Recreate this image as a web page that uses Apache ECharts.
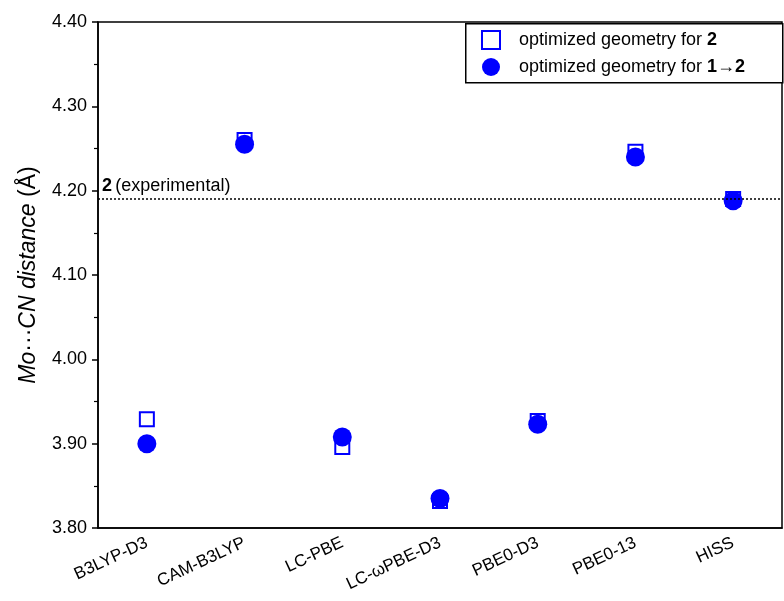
<!DOCTYPE html>
<html>
<head>
<meta charset="utf-8">
<script src="https://cdn.jsdelivr.net/npm/echarts@6/dist/echarts.min.js"></script>
<style>
  html, body { margin: 0; padding: 0; background: #fff; }
  #chart { width: 784px; height: 601px; }
</style>
</head>
<body>
<div id="chart"></div>
<script>
// Functionals on the x axis
const functionals = ['B3LYP-D3', 'CAM-B3LYP', 'LC-PBE', 'LC-\u03c9PBE-D3', 'PBE0-D3', 'PBE0-13', 'HISS'];
// Mo···CN distance (Å), geometry optimized for 2
const distOpt2 = [3.929, 4.260, 3.896, 3.832, 3.927, 4.246, 4.190];
// Mo···CN distance (Å), geometry optimized for 1→2
const distOpt12 = [3.900, 4.255, 3.908, 3.835, 3.923, 4.240, 4.188];
// Experimental reference value for 2
const experimental = 4.189;
// Y axis range and step
const yMin = 3.80, yMax = 4.40, yStep = 0.10;

const FONT = 'Liberation Sans, Arial, sans-serif';
const BLUE = '#0000ff';

const chart = echarts.init(document.getElementById('chart'), null, { renderer: 'canvas' });

chart.setOption({
  animation: false,
  backgroundColor: '#fff',
  grid: {
    left: 98, right: 2, top: 22, bottom: 73,
    show: true, borderColor: '#000', borderWidth: 1.5, backgroundColor: 'transparent'
  },
  // legend frame
  graphic: [{
    type: 'rect',
    left: 465, top: 23,
    shape: { width: 317, height: 59 },
    style: { fill: '#fff', stroke: '#000', lineWidth: 1.5 },
    z: 90
  }],
  legend: {
    orient: 'vertical',
    left: 477, top: 28,
    padding: [2, 4, 2, 4],
    itemGap: 8,
    itemWidth: 18, itemHeight: 18,
    z: 100,
    textStyle: {
      fontFamily: FONT, fontSize: 18, color: '#000', padding: [0, 0, 0, 14],
      rich: {
        b: { fontFamily: FONT, fontSize: 18, fontWeight: 'bold', color: '#000' },
        n: { fontFamily: FONT, fontSize: 18, color: '#000' }
      }
    },
    formatter: function (name) {
      if (name === 'opt2') return '{n|optimized geometry for }{b|2}';
      return '{n|optimized geometry for }{b|1}{n|\u2192}{b|2}';
    },
    data: ['opt2', 'opt12']
  },
  xAxis: {
    type: 'category',
    data: functionals,
    boundaryGap: true,
    axisLine: { lineStyle: { color: '#000', width: 1.5 } },
    axisTick: { alignWithLabel: true, length: 6, lineStyle: { color: '#000', width: 1.5 } },
    axisLabel: {
      rotate: 25, margin: 14, color: '#000',
      fontFamily: FONT, fontSize: 17
    },
    splitLine: { show: false }
  },
  yAxis: {
    type: 'value',
    min: yMin, max: yMax, interval: yStep,
    name: '{i|Mo}{n|\u00b7\u00b7\u00b7}{i|CN distance} {n|(\u00c5)}',
    nameLocation: 'middle',
    nameGap: 58,
    nameTextStyle: {
      fontFamily: FONT, fontSize: 23, color: '#000',
      rich: {
        i: { fontFamily: FONT, fontSize: 23, fontStyle: 'italic', color: '#000' },
        n: { fontFamily: FONT, fontSize: 23, color: '#000' }
      }
    },
    axisLine: { show: true, lineStyle: { color: '#000', width: 1.5 } },
    axisTick: { show: true, length: 6, lineStyle: { color: '#000', width: 1.5 } },
    minorTick: { show: true, splitNumber: 2, length: 4, lineStyle: { color: '#000', width: 1.2 } },
    axisLabel: {
      color: '#000', fontFamily: FONT, fontSize: 18, margin: 11,
      formatter: v => v.toFixed(2)
    },
    splitLine: { show: false }
  },
  series: [
    {
      name: 'opt2',
      type: 'scatter',
      data: distOpt2,
      symbol: 'rect',
      symbolSize: 14,
      itemStyle: { color: '#fff', borderColor: BLUE, borderWidth: 2, opacity: 1 },
      z: 3,
      markLine: {
        silent: true,
        symbol: ['none', 'none'],
        lineStyle: { color: '#000', type: [2, 2], width: 1.5 },
        label: {
          show: true,
          position: 'insideStartTop',
          distance: [4, 4],
          formatter: '{b|2} {n|(experimental)}',
          rich: {
            b: { fontFamily: FONT, fontSize: 18, fontWeight: 'bold', color: '#000' },
            n: { fontFamily: FONT, fontSize: 18, color: '#000' }
          }
        },
        data: [{ yAxis: experimental }]
      }
    },
    {
      name: 'opt12',
      type: 'scatter',
      data: distOpt12,
      symbol: 'circle',
      symbolSize: 19,
      itemStyle: { color: BLUE, opacity: 1 },
      z: 4
    }
  ]
});
</script>
</body>
</html>
